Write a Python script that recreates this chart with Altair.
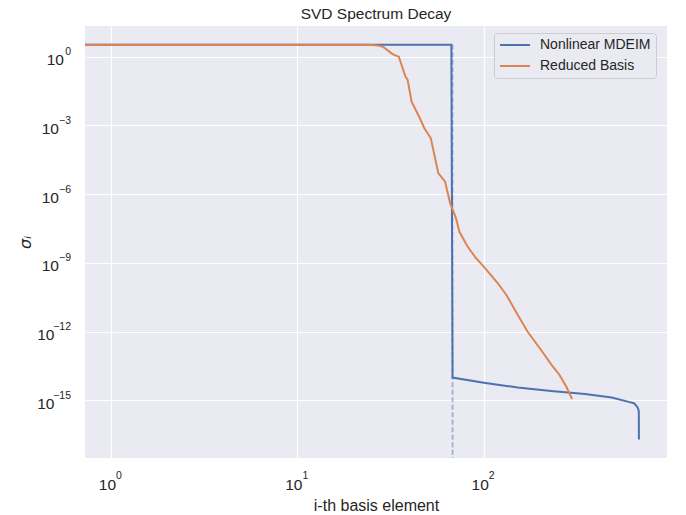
import altair as alt
import pandas as pd

# ---- data ----
# the first index (0 in the source) lies off the log axis; it is placed left of the
# visible range and clipped, as matplotlib does
mdeim_idx = [0.3, 1, 67, 68, 100, 152, 230, 349, 486, 607, 640, 664, 675, 679, 680]
mdeim_sigma = [3.34, 3.34, 3.34, 1.0e-14, 6.0e-15, 3.7e-15, 2.6e-15, 1.9e-15, 1.35e-15,
               8.5e-16, 7.6e-16, 5.5e-16, 4.2e-16, 3.3e-16, 2.0e-17]

rb_idx = [0.3, 1, 24, 27, 29, 32, 33, 35, 38, 39, 41, 45, 48, 52, 57, 62, 66, 71, 74,
          82, 91, 100, 119, 132, 152, 172, 203, 231, 255, 277, 298]
rb_sigma = [3.34, 3.34, 3.34, 3.1, 2.6, 1.4, 1.19, 1.0, 0.135, 0.1, 0.011, 2.4e-3, 7.6e-4,
            2.75e-4, 8.3e-6, 3.5e-6, 4.1e-7, 8.9e-8, 2.3e-8, 5.1e-9, 1.6e-9, 6.9e-10,
            1.3e-10, 4.1e-11, 5.5e-12, 1.0e-12, 1.6e-13, 3.6e-14, 1.3e-14, 4.1e-15, 1.15e-15]

cutoff_idx = [68]
cutoff_top = [3.34]

series_names = ["Nonlinear MDEIM", "Reduced Basis"]
series_colors = ["#4C72B0", "#DD8452"]

x_ticks = [1, 10, 100]
x_exps = ["0", "1", "2"]
y_ticks = [1, 1e-3, 1e-6, 1e-9, 1e-12, 1e-15]
y_exps = ["0", "−3", "−6", "−9", "−12", "−15"]

df = pd.concat([
    pd.DataFrame({"i": mdeim_idx, "sigma": mdeim_sigma, "series": series_names[0], "o": 0}),
    pd.DataFrame({"i": rb_idx, "sigma": rb_sigma, "series": series_names[1], "o": 1}),
])
df_rule = pd.DataFrame({"i": cutoff_idx, "top": cutoff_top})
df_xt = pd.DataFrame({"v": x_ticks, "e": x_exps, "base": "10"})
df_yt = pd.DataFrame({"v": y_ticks, "e": y_exps, "base": "10"})

FONT = "Liberation Sans"
TXT = "#262626"
TICK_FS = 15.5
EXP_FS = 10.5

x_scale = alt.Scale(type="log", domain=[0.725, 962], nice=False, zero=False)
y_scale = alt.Scale(type="log", domain=[3.1e-18, 21.8], nice=False, zero=False)

x_axis = alt.Axis(
    values=x_ticks, labels=False, title="i-th basis element",
    grid=True, gridColor="white", gridWidth=1.2, domain=False, ticks=False,
    titleFont=FONT, titleFontSize=16, titleColor=TXT, titleFontWeight="normal",
    titleY=47, titleBaseline="middle",
)
y_axis = alt.Axis(
    values=y_ticks, labels=False, title="σᵢ",
    grid=True, gridColor="white", gridWidth=1.2, domain=False, ticks=False,
    titleFont="DejaVu Sans", titleFontSize=16, titleColor=TXT, titleFontWeight="normal",
    titleFontStyle="italic", titleX=-60, titleY=216, titleAlign="center",
    titleBaseline="middle",
)

X = alt.X("i:Q", scale=x_scale, axis=x_axis)
Y = alt.Y("sigma:Q", scale=y_scale, axis=y_axis)

rule = alt.Chart(df_rule).mark_rule(
    color="#4C72B0", opacity=0.5, strokeWidth=1.7, strokeDash=[5, 2.5], clip=True
).encode(x=X, y=alt.Y("top:Q", scale=y_scale, axis=y_axis), y2=alt.value(432))

lines = alt.Chart(df).mark_line(strokeWidth=2, clip=True).encode(
    x=X,
    y=Y,
    color=alt.Color(
        "series:N",
        scale=alt.Scale(domain=series_names, range=series_colors),
        legend=alt.Legend(
            title=None, orient="none", legendX=409, legendY=7,
            symbolType="M-3,0H3", symbolSize=100, symbolStrokeWidth=2,
            symbolOffset=9,
            labelFont=FONT, labelFontSize=14, labelColor=TXT, labelOffset=18,
            padding=5, rowPadding=7, fillColor="#EAEAF2", strokeColor="#CCCCCC",
            cornerRadius=3,
        ),
    ),
    order="o:Q",
)

# tick labels: "10" with a raised, smaller exponent
xt_base = alt.Chart(df_xt).mark_text(
    align="right", baseline="alphabetic", dx=5, font=FONT, fontSize=TICK_FS, color=TXT
).encode(x=alt.X("v:Q", scale=x_scale, axis=x_axis), y=alt.value(464), text="base:N")
xt_exp = alt.Chart(df_xt).mark_text(
    align="left", baseline="alphabetic", dx=5, font=FONT, fontSize=EXP_FS, color=TXT
).encode(x=alt.X("v:Q", scale=x_scale, axis=x_axis), y=alt.value(453), text="e:N")

yt_layers = []
for n, xpos in [(1, -21), (2, -26), (3, -30.5)]:
    yt_layers.append(
        alt.Chart(df_yt).transform_filter(f"length(datum.e) == {n}").mark_text(
            align="right", baseline="alphabetic", dy=8.5, font=FONT, fontSize=TICK_FS, color=TXT
        ).encode(y=alt.Y("v:Q", scale=y_scale, axis=y_axis), x=alt.value(xpos), text="base:N")
    )
yt_exp = alt.Chart(df_yt).mark_text(
    align="right", baseline="alphabetic", dy=-1.5, font=FONT, fontSize=EXP_FS, color=TXT
).encode(y=alt.Y("v:Q", scale=y_scale, axis=y_axis), x=alt.value(-14), text="e:N")

chart = alt.layer(rule, lines, xt_base, xt_exp, *yt_layers, yt_exp).properties(
    width=582, height=432,
    title=alt.TitleParams("SVD Spectrum Decay", font=FONT, fontSize=15.5, color=TXT,
                          fontWeight="normal", offset=4),
    autosize=alt.AutoSizeParams(type="none"),
    padding={"left": 85, "top": 26, "right": 19, "bottom": 57},
    background="white",
).configure_view(fill="#EAEAF2", stroke=None)

chart.save("out.html", embed_options={"renderer": "svg", "actions": False})
